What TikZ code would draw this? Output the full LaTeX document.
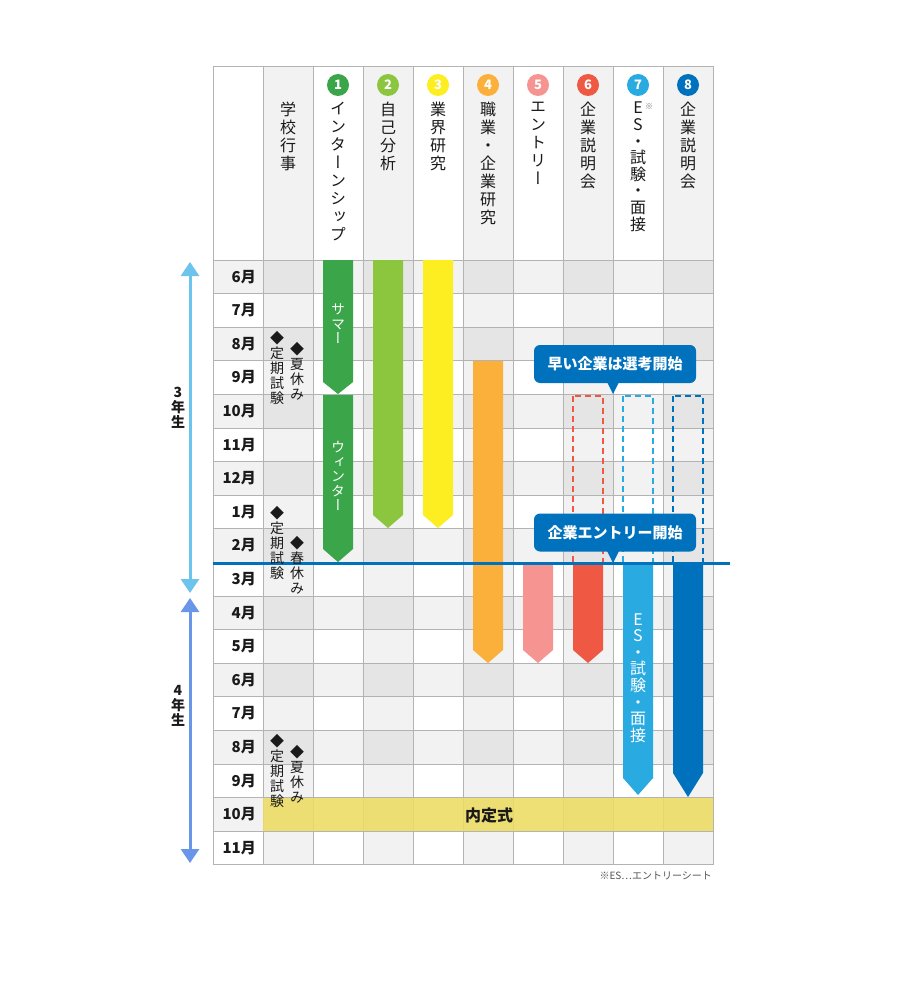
\documentclass[tikz,border=0pt]{standalone}
\usepackage{fontspec}
\usepackage{tikz}
\usepackage{xcolor}
\usetikzlibrary{arrows.meta}
\setmainfont{Noto Sans CJK JP}
\newfontfamily\tatefont{Noto Sans CJK JP}[RawFeature=+vert]
\definecolor{FontColor}{HTML}{1A1A1A}
\definecolor{GridGray}{HTML}{B3B3B3}
\definecolor{ColGray}{HTML}{F2F2F2}
\definecolor{InternGreen}{HTML}{3BA549}
\definecolor{SelfGreen}{HTML}{8CC63F}
\definecolor{IndYellow}{HTML}{FCEE21}
\definecolor{JobOrange}{HTML}{FBB03B}
\definecolor{EntryPink}{HTML}{F69491}
\definecolor{SemRed}{HTML}{EF5843}
\definecolor{EsBlue}{HTML}{29ABE2}
\definecolor{CoBlue}{HTML}{0071BC}
\definecolor{BandYellow}{HTML}{EFDD60}
\definecolor{YearThree}{HTML}{6CC3EC}
\definecolor{YearFour}{HTML}{6A96EA}
\ExplSyntaxOn
\NewDocumentCommand\tate{O{18pt}m}
  {\tl_set:Nx \l_tmpa_tl {#2}
   \vbox{\baselineskip=#1\lineskiplimit=-\maxdimen
    \tl_map_inline:Nn \l_tmpa_tl {\hbox_to_wd:nn{1.2em}{\hss##1\hss}}}}
\ExplSyntaxOff
\newcommand\colschool{学校行事}
\newcommand\colintern{インターンシップ}
\newcommand\colself{自己分析}
\newcommand\colind{業界研究}
\newcommand\coljob{職業・企業研究}
\newcommand\colentry{エントリー}
\newcommand\colsem{企業説明会}
\newcommand\coles{ES・試験・面接}
\tikzstyle{mon} = [font=\bfseries\fontsize{15}{16}\selectfont, text=FontColor, anchor=east, inner sep=0pt]
\tikzstyle{head} = [font=\tatefont\fontsize{16}{18}\selectfont, text=FontColor, anchor=north, inner sep=0pt]
\tikzstyle{num} = [circle, minimum size=22pt, inner sep=0pt, text=white, font=\bfseries\fontsize{13}{13}\selectfont]
\tikzstyle{inbar} = [font=\tatefont\fontsize{14}{14}\selectfont, text=white, inner sep=0pt]
\tikzstyle{note} = [font=\tatefont\fontsize{14}{15}\selectfont, text=FontColor, inner sep=0pt]
\tikzstyle{year} = [font=\tatefont\bfseries\fontsize{14}{15}\selectfont, text=FontColor, inner sep=0pt]
\tikzstyle{callout} = [fill=CoBlue, rounded corners=6pt, minimum width=162pt, minimum height=38pt, inner sep=0pt, text=white, font=\bfseries\fontsize{15}{15}\selectfont]
\tikzstyle{gridline} = [draw=GridGray, line width=0.8pt]
\tikzstyle{planned} = [line width=2pt, dash pattern=on 6pt off 4pt]
\tikzset{>={Triangle[width=18pt,length=14pt]}}

\begin{document}
\begin{tikzpicture}[x=1pt, y=-1pt]
\useasboundingbox (0,0) rectangle (911,1008);
\fill[white] (0,0) rectangle (911,1008);
% column and row shading
\foreach \x in {263,363,463,563,663} \fill[ColGray] (\x,66) rectangle ++(50,799);
\foreach \i in {0,2,...,16} \fill[black, opacity=0.05] (213,260+33.6*\i) rectangle ++(500,33.6);
% grid
\foreach \i in {0,...,18} \draw[gridline] (213,260+33.6*\i) -- (713,260+33.6*\i);
\foreach \x in {213,263,...,713} \draw[gridline] (\x,66) -- (\x,865);
\draw[gridline] (213,66) -- (713,66);
\fill[BandYellow, opacity=0.85] (263,797.6) rectangle (713,831.2);
% planned periods
\draw[planned, SemRed] (573,396) rectangle (603,565);
\draw[planned, EsBlue] (623,396) rectangle (653,565);
\draw[planned, CoBlue] (673,396) rectangle (703,565);
% bars
\fill[InternGreen] (323,260) -- (353,260) -- (353,382) -- (338,394) -- (323,382) -- cycle;
\fill[InternGreen] (323,395) -- (353,395) -- (353,549) -- (338,562) -- (323,549) -- cycle;
\fill[SelfGreen] (373,260) -- (403,260) -- (403,515) -- (388,528) -- (373,515) -- cycle;
\fill[IndYellow] (423,260) -- (453,260) -- (453,515) -- (438,528) -- (423,515) -- cycle;
\fill[JobOrange] (473,361) -- (503,361) -- (503,650) -- (488,663) -- (473,650) -- cycle;
\fill[EntryPink] (523,565) -- (553,565) -- (553,650) -- (538,663) -- (523,650) -- cycle;
\fill[SemRed] (573,565) -- (603,565) -- (603,650) -- (588,663) -- (573,650) -- cycle;
\fill[EsBlue] (623,565) -- (653,565) -- (653,778) -- (638,795) -- (623,778) -- cycle;
\fill[CoBlue] (673,565) -- (703,565) -- (703,773) -- (688,797) -- (673,773) -- cycle;
\node[inbar] (summer) at (338,324) {\tate[14.5pt]{サマー}};
\node[inbar] (winter) at (338,476) {\tate[14.5pt]{ウィンター}};
\node[inbar, font=\tatefont\fontsize{16}{16}\selectfont] (esbar) at (638,678) {\tate[16.6pt]{\coles}};
% now line
\coordinate (nowL) at (213,563);
\coordinate (nowR) at (730,563);
\draw[CoBlue, line width=3pt] (nowL) -- (nowR);
% callouts
\node[callout] (early) at (615,364) {早い企業は選考開始};
\fill[CoBlue] (607,382) -- (613,394) -- (619,382) -- cycle;
\node[callout] (entry) at (615,532.5) {企業エントリー開始};
\fill[CoBlue] (607,551) -- (613,563) -- (619,551) -- cycle;
% naiteishiki
\node[font=\bfseries\fontsize{16}{16}\selectfont, text=FontColor] (naitei) at (489,815) {内定式};
% header
\node[num, fill=InternGreen] (n1) at (338,85) {1};
\node[num, fill=SelfGreen] (n2) at (388,85) {2};
\node[num, fill=IndYellow] (n3) at (438,85) {3};
\node[num, fill=JobOrange] (n4) at (488,85) {4};
\node[num, fill=EntryPink] (n5) at (538,85) {5};
\node[num, fill=SemRed] (n6) at (588,85) {6};
\node[num, fill=EsBlue] (n7) at (638,85) {7};
\node[num, fill=CoBlue] (n8) at (688,85) {8};
\node[head] (hschool) at (288,102) {\tate{\colschool}};
\node[head] (h1) at (338,102) {\tate{\colintern}};
\node[head] (h2) at (388,102) {\tate{\colself}};
\node[head] (h3) at (438,102) {\tate{\colind}};
\node[head] (h4) at (488,102) {\tate{\coljob}};
\node[head] (h5) at (538,102) {\tate{\colentry}};
\node[head] (h6) at (588,102) {\tate{\colsem}};
\node[head] (h7) at (638,102) {\tate[16.6pt]{\coles}};
\node[head] (h8) at (688,102) {\tate{\colsem}};
\node[font=\fontsize{8}{8}\selectfont, text=FontColor!60, inner sep=0pt] (esmark) at (649,107) {※};
% months
\foreach \m [count=\i from 0] in {6,7,8,9,10,11,12,1,2,3,4,5,6,7,8,9,10,11}
  \node[mon] (m\i) at (256,276.8+33.6*\i) {\m 月};
% school events
\node[note] (exam1) at (277,368) {\tate[15pt]{◆定期試験}};
\node[note] (summer1) at (297,371) {\tate[15pt]{◆夏休み}};
\node[note] (exam2) at (277,543) {\tate[15pt]{◆定期試験}};
\node[note] (spring) at (297,565) {\tate[15pt]{◆春休み}};
\node[note] (exam3) at (277,771) {\tate[15pt]{◆定期試験}};
\node[note] (summer2) at (297,774) {\tate[15pt]{◆夏休み}};
% school years
\coordinate (y3top) at (190,262);
\coordinate (y3bot) at (190,593);
\coordinate (y4top) at (190,598);
\coordinate (y4bot) at (190,863);
\draw[<->, YearThree, line width=3pt] (y3top) -- (y3bot);
\draw[<->, YearFour, line width=3pt] (y4top) -- (y4bot);
\node[year] (third) at (178,408) {\tate[15pt]{3年生}};
\node[year] (fourth) at (178,706) {\tate[15pt]{4年生}};
% footnote
\node[anchor=east, font=\fontsize{10}{10}\selectfont, text=FontColor!75, inner sep=0pt] (esnote) at (712,876) {※ES…エントリーシート};
\end{tikzpicture}
\end{document}
